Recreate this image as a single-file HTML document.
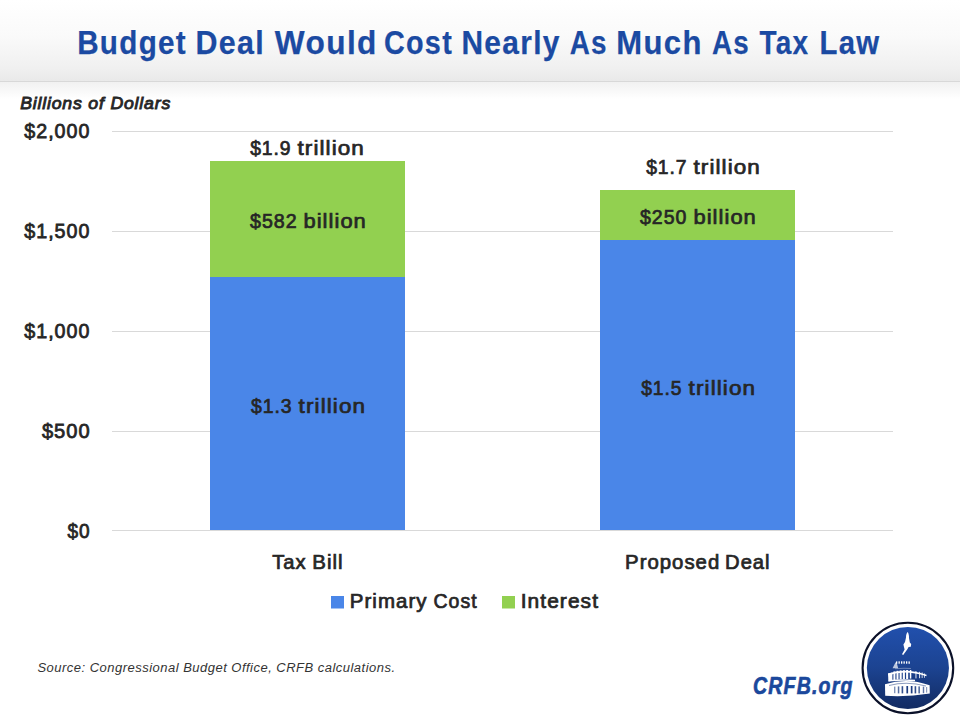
<!DOCTYPE html>
<html><head><meta charset="utf-8">
<style>
html,body{margin:0;padding:0;background:#fff;}
body{width:960px;height:720px;overflow:hidden;position:relative;}
svg{position:absolute;left:0;top:0;}
text{font-family:"Liberation Sans",sans-serif;}
</style></head>
<body>
<svg width="960" height="720" viewBox="0 0 960 720">
<defs>
<linearGradient id="hdr" x1="0" y1="0" x2="0" y2="1">
<stop offset="0" stop-color="#ffffff"/>
<stop offset="0.45" stop-color="#fafafa"/>
<stop offset="0.85" stop-color="#f0f0f0"/>
<stop offset="1" stop-color="#e9e9e9"/>
</linearGradient>
<linearGradient id="shd" x1="0" y1="0" x2="0" y2="1">
<stop offset="0" stop-color="#f1f1f1"/>
<stop offset="1" stop-color="#ffffff"/>
</linearGradient>
<linearGradient id="disk" x1="0" y1="0" x2="0" y2="1">
<stop offset="0" stop-color="#2150ad"/>
<stop offset="0.5" stop-color="#1c4391"/>
<stop offset="1" stop-color="#122b62"/>
</linearGradient>
</defs>
<rect x="0" y="0" width="960" height="720" fill="#fff"/>
<!-- header -->
<rect x="0" y="0" width="960" height="80.6" fill="url(#hdr)"/>
<rect x="0" y="80.7" width="960" height="1.3" fill="#d8d8d8"/>
<rect x="0" y="82" width="960" height="17" fill="url(#shd)"/>


<!-- gridlines -->
<g fill="#d9d9d9">
<rect x="112" y="131" width="781" height="1"/>
<rect x="112" y="231" width="781" height="1"/>
<rect x="112" y="331" width="781" height="1"/>
<rect x="112" y="431" width="781" height="1"/>
<rect x="112" y="530" width="781" height="1"/>
</g>

<!-- y labels -->

<!-- bars -->
<rect x="210" y="161" width="195" height="116" fill="#92d050"/>
<rect x="210" y="277" width="195" height="253" fill="#4a86e8"/>
<rect x="600" y="190" width="195" height="50" fill="#92d050"/>
<rect x="600" y="240" width="195" height="290" fill="#4a86e8"/>

<!-- data labels -->

<!-- categories -->

<!-- legend -->
<rect x="331" y="596" width="13" height="12.5" fill="#4a86e8"/>
<rect x="502" y="596" width="13" height="12.5" fill="#92d050"/>

<!-- source -->

<!-- CRFB.org -->

<text x="77.14" y="54.40" font-size="33.9" font-weight="bold" fill="#1b4aa2" letter-spacing="1.5" stroke="#1b4aa2" stroke-width="0.25" textLength="109.87" lengthAdjust="spacingAndGlyphs">Budget</text>
<text x="195.50" y="54.40" font-size="33.9" font-weight="bold" fill="#1b4aa2" letter-spacing="1.5" stroke="#1b4aa2" stroke-width="0.25" textLength="69.67" lengthAdjust="spacingAndGlyphs">Deal</text>
<text x="274.85" y="54.40" font-size="33.9" font-weight="bold" fill="#1b4aa2" letter-spacing="1.5" stroke="#1b4aa2" stroke-width="0.25" textLength="102.97" lengthAdjust="spacingAndGlyphs">Would</text>
<text x="383.96" y="54.40" font-size="33.9" font-weight="bold" fill="#1b4aa2" letter-spacing="1.5" stroke="#1b4aa2" stroke-width="0.25" textLength="69.03" lengthAdjust="spacingAndGlyphs">Cost</text>
<text x="461.43" y="54.40" font-size="33.9" font-weight="bold" fill="#1b4aa2" letter-spacing="1.5" stroke="#1b4aa2" stroke-width="0.25" textLength="99.36" lengthAdjust="spacingAndGlyphs">Nearly</text>
<text x="569.67" y="54.40" font-size="33.9" font-weight="bold" fill="#1b4aa2" letter-spacing="1.5" stroke="#1b4aa2" stroke-width="0.25" textLength="38.02" lengthAdjust="spacingAndGlyphs">As</text>
<text x="616.33" y="54.40" font-size="33.9" font-weight="bold" fill="#1b4aa2" letter-spacing="1.5" stroke="#1b4aa2" stroke-width="0.25" textLength="86.48" lengthAdjust="spacingAndGlyphs">Much</text>
<text x="712.06" y="54.40" font-size="33.9" font-weight="bold" fill="#1b4aa2" letter-spacing="1.5" stroke="#1b4aa2" stroke-width="0.25" textLength="37.88" lengthAdjust="spacingAndGlyphs">As</text>
<text x="759.58" y="54.40" font-size="33.9" font-weight="bold" fill="#1b4aa2" letter-spacing="1.5" stroke="#1b4aa2" stroke-width="0.25" textLength="49.83" lengthAdjust="spacingAndGlyphs">Tax</text>
<text x="819.52" y="54.40" font-size="33.9" font-weight="bold" fill="#1b4aa2" letter-spacing="1.5" stroke="#1b4aa2" stroke-width="0.25" textLength="60.94" lengthAdjust="spacingAndGlyphs">Law</text>
<text x="20.23" y="109.00" font-size="17.4" font-style="italic" fill="#262626" letter-spacing="0.8" stroke="#262626" stroke-width="0.9" textLength="150.83" lengthAdjust="spacingAndGlyphs">Billions of Dollars</text>
<text x="90.34" y="138.45" font-size="20.5" fill="#262626" letter-spacing="1.0" stroke="#262626" stroke-width="0.76" textLength="66.04" lengthAdjust="spacingAndGlyphs" text-anchor="end">$2,000</text>
<text x="90.34" y="237.95" font-size="20.5" fill="#262626" letter-spacing="1.0" stroke="#262626" stroke-width="0.76" textLength="66.04" lengthAdjust="spacingAndGlyphs" text-anchor="end">$1,500</text>
<text x="90.34" y="337.95" font-size="20.5" fill="#262626" letter-spacing="1.0" stroke="#262626" stroke-width="0.76" textLength="66.04" lengthAdjust="spacingAndGlyphs" text-anchor="end">$1,000</text>
<text x="90.60" y="437.75" font-size="20.5" fill="#262626" letter-spacing="1.0" stroke="#262626" stroke-width="0.76" textLength="48.71" lengthAdjust="spacingAndGlyphs" text-anchor="end">$500</text>
<text x="90.48" y="538.35" font-size="20.5" fill="#262626" letter-spacing="1.0" stroke="#262626" stroke-width="0.76" textLength="23.09" lengthAdjust="spacingAndGlyphs" text-anchor="end">$0</text>
<text x="250.14" y="154.90" font-size="20.4" fill="#262626" letter-spacing="1.0" stroke="#262626" stroke-width="0.73" textLength="41.38" lengthAdjust="spacingAndGlyphs">$1.9</text>
<text x="297.47" y="154.90" font-size="20.4" fill="#262626" letter-spacing="1.0" stroke="#262626" stroke-width="0.73" textLength="67.47" lengthAdjust="spacingAndGlyphs">trillion</text>
<text x="250.06" y="227.60" font-size="20.4" fill="#262626" letter-spacing="1.0" stroke="#262626" stroke-width="0.73" textLength="47.46" lengthAdjust="spacingAndGlyphs">$582</text>
<text x="303.41" y="227.60" font-size="20.4" fill="#262626" letter-spacing="1.0" stroke="#262626" stroke-width="0.73" textLength="63.47" lengthAdjust="spacingAndGlyphs">billion</text>
<text x="250.90" y="412.60" font-size="20.4" fill="#262626" letter-spacing="1.0" stroke="#262626" stroke-width="0.73" textLength="41.57" lengthAdjust="spacingAndGlyphs">$1.3</text>
<text x="298.64" y="412.60" font-size="20.4" fill="#262626" letter-spacing="1.0" stroke="#262626" stroke-width="0.73" textLength="67.52" lengthAdjust="spacingAndGlyphs">trillion</text>
<text x="646.20" y="174.20" font-size="20.4" fill="#262626" letter-spacing="1.0" stroke="#262626" stroke-width="0.73" textLength="41.29" lengthAdjust="spacingAndGlyphs">$1.7</text>
<text x="693.47" y="174.20" font-size="20.4" fill="#262626" letter-spacing="1.0" stroke="#262626" stroke-width="0.73" textLength="67.47" lengthAdjust="spacingAndGlyphs">trillion</text>
<text x="640.08" y="223.70" font-size="20.4" fill="#262626" letter-spacing="1.0" stroke="#262626" stroke-width="0.73" textLength="47.19" lengthAdjust="spacingAndGlyphs">$250</text>
<text x="693.41" y="223.70" font-size="20.4" fill="#262626" letter-spacing="1.0" stroke="#262626" stroke-width="0.73" textLength="63.47" lengthAdjust="spacingAndGlyphs">billion</text>
<text x="641.17" y="394.60" font-size="20.4" fill="#262626" letter-spacing="1.0" stroke="#262626" stroke-width="0.73" textLength="41.28" lengthAdjust="spacingAndGlyphs">$1.5</text>
<text x="688.64" y="394.60" font-size="20.4" fill="#262626" letter-spacing="1.0" stroke="#262626" stroke-width="0.73" textLength="67.52" lengthAdjust="spacingAndGlyphs">trillion</text>
<text x="272.28" y="569.00" font-size="20.2" fill="#262626" letter-spacing="1.0" stroke="#262626" stroke-width="0.73" textLength="34.28" lengthAdjust="spacingAndGlyphs">Tax</text>
<text x="312.35" y="569.00" font-size="20.2" fill="#262626" letter-spacing="1.0" stroke="#262626" stroke-width="0.73" textLength="31.26" lengthAdjust="spacingAndGlyphs">Bill</text>
<text x="625.08" y="569.00" font-size="20.2" fill="#262626" letter-spacing="1.0" stroke="#262626" stroke-width="0.73" textLength="95.15" lengthAdjust="spacingAndGlyphs">Proposed</text>
<text x="725.09" y="569.00" font-size="20.2" fill="#262626" letter-spacing="1.0" stroke="#262626" stroke-width="0.73" textLength="45.51" lengthAdjust="spacingAndGlyphs">Deal</text>
<text x="349.77" y="608.40" font-size="19.3" fill="#262626" letter-spacing="1.0" stroke="#262626" stroke-width="0.71" textLength="77.85" lengthAdjust="spacingAndGlyphs">Primary</text>
<text x="433.55" y="608.40" font-size="19.3" fill="#262626" letter-spacing="1.0" stroke="#262626" stroke-width="0.71" textLength="44.03" lengthAdjust="spacingAndGlyphs">Cost</text>
<text x="520.65" y="608.40" font-size="19.3" fill="#262626" letter-spacing="1.0" stroke="#262626" stroke-width="0.71" textLength="78.43" lengthAdjust="spacingAndGlyphs">Interest</text>
<text x="37.44" y="671.70" font-size="13.7" font-style="italic" fill="#333333" letter-spacing="0.5" textLength="358.09" lengthAdjust="spacingAndGlyphs">Source: Congressional Budget Office, CRFB calculations.</text>
<text x="752.91" y="693.80" font-size="24.7" font-weight="bold" font-style="italic" fill="#1b489c" letter-spacing="1.5" stroke="#1b489c" stroke-width="0.7" textLength="100.68" lengthAdjust="spacingAndGlyphs">CRFB.org</text>
<!-- logo -->
<circle cx="907.9" cy="668" r="45.3" fill="none" stroke="#0b1129" stroke-width="2.1"/>
<circle cx="907.9" cy="668" r="41.05" fill="url(#disk)"/>
<g fill="#ffffff">
<path d="M907.6,632 C908.6,633 909.2,636 909,638 L909.8,642.6 L911.2,644 L910.8,646.8 L908.6,647 L907.2,649.6 L903.2,655 L902,654.2 L904.6,649.6 L903.4,644.4 L905,642 L906,637.6 C906,635 906.6,633 907.6,632 Z"/>
<path d="M892.6,668.2 L895.4,662.4 L896.6,662.6 L898.2,668.2 Z" opacity="0.7"/>
<rect x="896" y="661.4" width="1.3" height="2.4"/>
<rect x="898.5" y="661.3" width="1.3" height="2.4"/>
<rect x="901" y="661.3" width="1.3" height="2.4"/>
<rect x="903.5" y="661.3" width="1.3" height="2.4"/>
<rect x="906" y="661.3" width="1.3" height="2.4"/>
<rect x="908.5" y="661.4" width="1.3" height="2.4"/>
<path d="M895,668.2 Q903,667.2 911,668 L911,669 Q903,668.4 895,669.2 Z" opacity="0.35"/>
<path d="M888,673.6 Q905,667.4 926.6,674.8 L926.4,676.2 Q905,669.4 888.6,675.2 Z"/>
<path d="M888,673.6 L892.4,672.6 L892.4,680.8 L888.4,681.6 Z"/>
<path d="M888.6,680 Q903,678.4 915,679.8 L915,681.2 Q903,680 888.6,681.6 Z"/>
<rect x="893.4" y="671.4" width="2" height="8.6"/>
<rect x="896.5" y="670.8" width="2" height="8.8"/>
<rect x="899.6" y="670.4" width="2.1" height="9"/>
<rect x="902.8" y="670.2" width="2.1" height="9"/>
<rect x="906.1" y="670" width="2.1" height="9"/>
<rect x="909.8" y="670" width="1.5" height="8.6"/>
<rect x="915.4" y="671" width="1.1" height="7.4" opacity="0.8"/>
<rect x="919" y="671.8" width="1.1" height="6.4" opacity="0.8"/>
<rect x="921.6" y="672.4" width="1.1" height="5.6" opacity="0.7"/>
<rect x="924" y="673.4" width="1" height="4.4" opacity="0.7"/>
<path d="M885,684.2 Q907,677.2 929.6,685.2 L929.8,693.6 Q907,697.2 885.2,695.8 Z"/>
</g>
<g fill="#1c3c80">
<path d="M889,685 Q907,680 926,685.6 L926,686.4 Q907,681.4 889,686 Z" opacity="0.5"/>
<rect x="894" y="686.6" width="1.4" height="6.6" opacity="0.55"/>
<rect x="897.8" y="686.4" width="1.5" height="7" opacity="0.75"/>
<rect x="901.6" y="686.2" width="1.6" height="7.2" opacity="0.9"/>
<rect x="906.4" y="686" width="1.7" height="7.4"/>
<rect x="910.8" y="686" width="1.7" height="7.4"/>
<rect x="914.6" y="686.2" width="1.6" height="7.2" opacity="0.9"/>
<rect x="918.4" y="686.4" width="1.5" height="7" opacity="0.8"/>
<rect x="922.8" y="686.6" width="1.4" height="6.6" opacity="0.7"/>
<rect x="926" y="687" width="1.2" height="5.6" opacity="0.5"/>
</g>
</svg>
</body></html>
